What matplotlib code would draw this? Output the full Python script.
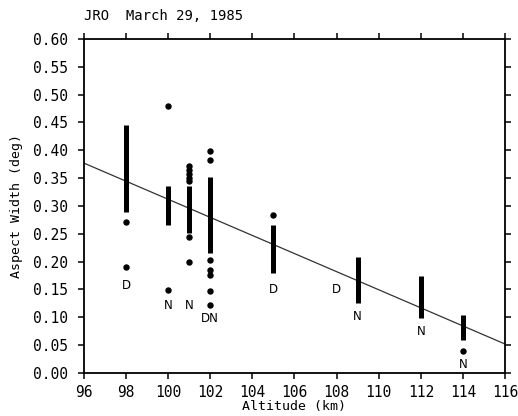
import matplotlib.pyplot as plt

# Altitudes of the measurement columns (km)
altitudes = [98, 100, 101, 102, 105, 109, 112, 114]
# dense part of each column (aspect width, deg)
stack_low = [0.290, 0.266, 0.251, 0.215, 0.179, 0.126, 0.098, 0.059]
stack_high = [0.445, 0.336, 0.335, 0.352, 0.266, 0.209, 0.174, 0.104]

# isolated points
pt_alt = [98, 98, 100, 100,
          101, 101, 101, 101, 101, 101, 101,
          102, 102, 102, 102, 102, 102, 102,
          105, 114]
pt_val = [0.272, 0.191, 0.480, 0.149,
          0.372, 0.364, 0.357, 0.351, 0.344, 0.245, 0.200,
          0.399, 0.383, 0.203, 0.185, 0.176, 0.147, 0.122,
          0.283, 0.040]

# D / N annotations
lab_alt = [98, 100, 101, 102, 105, 108.0, 109, 112, 114]
lab_val = [0.158, 0.122, 0.122, 0.097, 0.150, 0.150, 0.101, 0.075, 0.016]
lab_txt = ['D', 'N', 'N', 'DN', 'D', 'D', 'N', 'N', 'N']

# linear fit
fit_x = [96, 116]
fit_y = [0.377, 0.052]

mono = 'DejaVu Sans Mono'

fig = plt.figure(figsize=(5.18, 4.16), dpi=100)
ax = fig.add_axes([0.162, 0.1034, 0.813, 0.803])

ax.plot(fit_x, fit_y, color='#333333', linewidth=0.9)
ax.vlines(altitudes, stack_low, stack_high, color='black', linewidth=3.6)
ax.plot(pt_alt, pt_val, 'o', color='black', markersize=3.6, linestyle='none')

for x, y, t in zip(lab_alt, lab_val, lab_txt):
    ax.text(x, y, t, ha='center', va='center', fontsize=8.5, color='black')

ax.set_xlim(96, 116)
ax.set_ylim(0, 0.6)
ax.set_xticks(range(96, 117, 2))
ax.set_yticks([i * 0.05 for i in range(13)])
ax.set_yticklabels([f'{i * 0.05:.2f}' for i in range(13)])

for lbl in ax.get_xticklabels() + ax.get_yticklabels():
    lbl.set_family(mono)
    lbl.set_fontsize(10.5)

ax.tick_params(direction='out', length=4.5, width=1.1, top=True, right=True,
               labeltop=False, labelright=False)
ax.tick_params(axis='y', pad=7)
ax.tick_params(axis='x', pad=4)
for sp in ax.spines.values():
    sp.set_linewidth(1.3)

ax.set_xlabel('Altitude (km)', family=mono, fontsize=9.5, va='center')
ax.xaxis.set_label_coords(0.5, -0.099)
ax.set_ylabel('Aspect Width (deg)', family=mono, fontsize=9.5, va='center')
ax.yaxis.set_label_coords(-0.159, 0.5)
fig.text(0.162, 0.962, 'JRO  March 29, 1985', family=mono, fontsize=10,
         ha='left', va='center')

fig.savefig('out.png', dpi=100)
